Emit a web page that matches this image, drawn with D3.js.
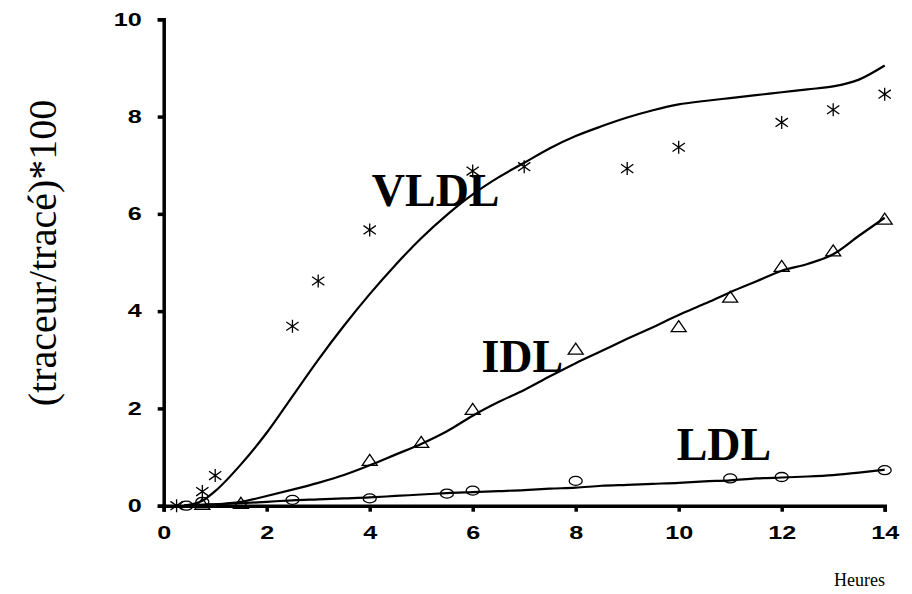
<!DOCTYPE html>
<html>
<head>
<meta charset="utf-8">
<script src="https://cdn.jsdelivr.net/npm/d3@7"></script>
<style>
  html, body { margin: 0; padding: 0; background: #fff; }
  svg { display: block; }
  .serif { font-family: "Liberation Serif", "DejaVu Serif", serif; }
</style>
</head>
<body>
<svg id="chart" width="912" height="594"></svg>
<script>
// Measured points (hours, tracer/trace * 100)
const vldlX = [0.25, 0.75, 1, 2.5, 3, 4, 6, 7, 9, 10, 12, 13, 14];
const vldlY = [0, 0.29, 0.62, 3.69, 4.62, 5.67, 6.88, 6.97, 6.93, 7.37, 7.88, 8.14, 8.46];

const idlX = [0.75, 1.5, 4, 5, 6, 8, 10, 11, 12, 13, 14];
const idlY = [0.03, 0.05, 0.93, 1.30, 1.98, 3.22, 3.68, 4.29, 4.92, 5.24, 5.89];

const ldlX = [0.44, 0.75, 2.5, 4, 5.5, 6, 8, 11, 12, 14];
const ldlY = [0, 0.08, 0.12, 0.15, 0.25, 0.31, 0.51, 0.56, 0.59, 0.73];

// Model curves
const fitX = [0.4, 0.75, 1, 1.5, 2, 2.5, 3, 3.5, 4, 4.5, 5, 5.5, 6, 6.5, 7, 7.5, 8, 8.5, 9, 9.5, 10, 10.5, 11, 11.5, 12, 12.5, 13, 13.5, 14];
const vldlFit = [0, 0.1, 0.3, 0.85, 1.5, 2.25, 3.0, 3.7, 4.35, 4.95, 5.5, 5.98, 6.4, 6.75, 7.05, 7.35, 7.6, 7.8, 7.98, 8.13, 8.25, 8.32, 8.38, 8.44, 8.5, 8.56, 8.62, 8.76, 9.05];
const idlFit = [0, 0.02, 0.03, 0.08, 0.2, 0.33, 0.47, 0.63, 0.83, 1.05, 1.27, 1.53, 1.85, 2.13, 2.38, 2.66, 2.93, 3.18, 3.43, 3.67, 3.92, 4.15, 4.39, 4.61, 4.83, 4.97, 5.17, 5.55, 5.92];
const ldlFit = [0, 0.02, 0.03, 0.05, 0.08, 0.11, 0.13, 0.15, 0.17, 0.2, 0.23, 0.26, 0.28, 0.3, 0.32, 0.35, 0.37, 0.41, 0.43, 0.45, 0.47, 0.5, 0.52, 0.56, 0.58, 0.6, 0.63, 0.68, 0.74];

const xTicks = [0, 2, 4, 6, 8, 10, 12, 14];
const yTicks = [0, 2, 4, 6, 8, 10];

const yTitle = "(traceur/tracé)*100";
const xTitle = "Heures";

const svg = d3.select("#chart");

const x = d3.scaleLinear().domain([0, 14]).range([163.7, 884.7]);
const y = d3.scaleLinear().domain([0, 10]).range([505.7, 19.3]);

const stretch = 1.4;

// Axes
const gy = svg.append("g").attr("transform", `translate(${x(0)},0)`)
  .call(d3.axisLeft(y).tickValues(yTicks).tickSize(6).tickSizeOuter(6).tickFormat(d3.format("d")));
const gx = svg.append("g").attr("transform", `translate(0,${y(0)})`)
  .call(d3.axisBottom(x).tickValues(xTicks).tickSize(6).tickSizeOuter(6).tickFormat(d3.format("d")));

[gx, gy].forEach(g => {
  g.select(".domain").attr("stroke", "#000").attr("stroke-width", 3.5);
  g.selectAll(".tick line").attr("stroke", "#000").attr("stroke-width", 3.5);
  g.selectAll(".tick text")
    .attr("fill", "#000")
    .attr("font-family", "'Liberation Sans', Arial, sans-serif")
    .attr("font-weight", "bold")
    .attr("font-size", 18);
});
gy.selectAll(".tick text")
  .attr("x", -22 / stretch)
  .attr("transform", `scale(${stretch},1)`);
gx.selectAll(".tick text")
  .attr("y", 21)
  .attr("transform", `scale(${stretch},1)`);

// Curves
const line = d3.line()
  .x(d => x(d[0]))
  .y(d => y(d[1]))
  .curve(d3.curveMonotoneX);

[vldlFit, idlFit, ldlFit].forEach(ys => {
  svg.append("path")
    .datum(fitX.map((v, i) => [v, ys[i]]))
    .attr("d", line)
    .attr("fill", "none")
    .attr("stroke", "#000")
    .attr("stroke-width", 2.2);
});

// Markers
const mk = svg.append("g").attr("fill", "none").attr("stroke", "#000").attr("stroke-width", 1.3);

// asterisks
const a = 35 * Math.PI / 180, r = 7.5;
const starPath = `M0,-6.5L0,6.5M${-r * Math.cos(a)},${-r * Math.sin(a)}L${r * Math.cos(a)},${r * Math.sin(a)}` +
  `M${-r * Math.cos(a)},${r * Math.sin(a)}L${r * Math.cos(a)},${-r * Math.sin(a)}`;
mk.selectAll(".star").data(vldlX.map((v, i) => [v, vldlY[i]])).join("path")
  .attr("class", "star")
  .attr("transform", d => `translate(${x(d[0])},${y(d[1])})`)
  .attr("d", starPath);

// triangles
mk.selectAll(".tri").data(idlX.map((v, i) => [v, idlY[i]])).join("path")
  .attr("class", "tri")
  .attr("transform", d => `translate(${x(d[0])},${y(d[1])})`)
  .attr("d", "M0,-6L7.5,5L-7.5,5Z");

// ellipses
mk.selectAll(".circ").data(ldlX.map((v, i) => [v, ldlY[i]])).join("ellipse")
  .attr("class", "circ")
  .attr("cx", d => x(d[0]))
  .attr("cy", d => y(d[1]))
  .attr("rx", 6.5)
  .attr("ry", 4.5);

// Series names
const names = [
  { text: "VLDL", hx: 4.04, v: 6.17 },
  { text: "IDL", hx: 6.17, v: 2.74 },
  { text: "LDL", hx: 9.96, v: 0.93 }
];
svg.selectAll(".name").data(names).join("text")
  .attr("class", "name serif")
  .attr("x", d => x(d.hx))
  .attr("y", d => y(d.v))
  .style("font-weight", "bold")
  .style("font-size", "46px")
  .attr("fill", "#000")
  .text(d => d.text);

// Axis titles
svg.append("text")
  .attr("class", "serif")
  .attr("transform", "translate(56,253) rotate(-90)")
  .attr("text-anchor", "middle")
  .style("font-size", "40px")
  .attr("fill", "#000")
  .text(yTitle);

svg.append("text")
  .attr("class", "serif")
  .attr("x", 885)
  .attr("y", 586)
  .attr("text-anchor", "end")
  .style("font-size", "18px")
  .attr("fill", "#000")
  .text(xTitle);
</script>
</body>
</html>
